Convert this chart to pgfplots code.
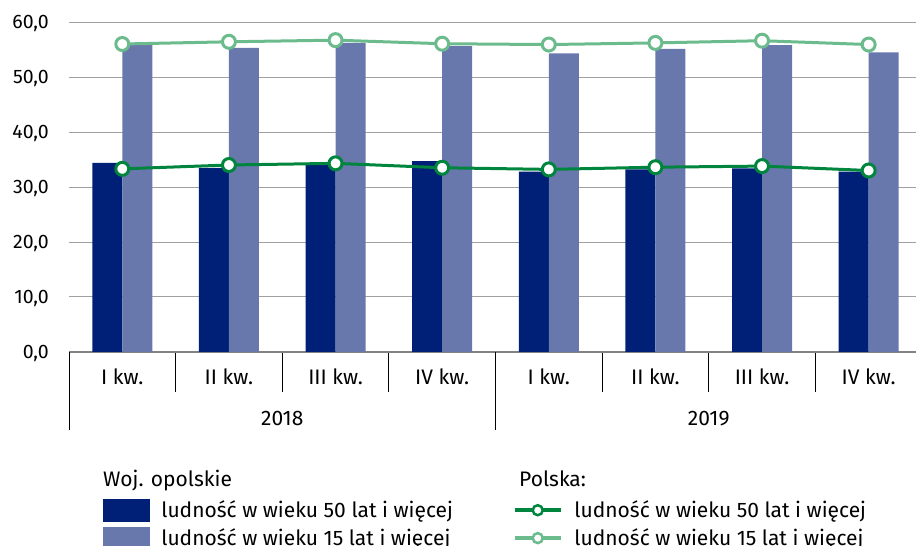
\documentclass[border=0pt]{standalone}
\usepackage{pgfplots}
\pgfplotsset{compat=1.18}
\usepackage{fontspec}
\setmainfont{Fira Sans}
\definecolor{navy}{RGB}{0,32,120}
\definecolor{lblue}{RGB}{104,120,173}
\definecolor{dgreen}{RGB}{0,133,62}
\definecolor{lgreen}{RGB}{107,187,141}
\definecolor{gridc}{RGB}{160,160,160}
\newcommand\fs{\fontsize{21pt}{24pt}\selectfont}
\newcommand\fy{\fontsize{19.5pt}{23pt}\selectfont}
\begin{document}
\begin{tikzpicture}
\useasboundingbox (0,0) rectangle (916pt,546pt);
\begin{axis}[
  at={(69pt,194pt)}, anchor=south west,
  scale only axis, width=847pt, height=330pt,
  xmin=-0.5, xmax=7.444, ymin=0, ymax=60,
  clip=false,
  axis lines*=left,
  y axis line style={draw=none},
  x axis line style={draw={rgb,255:red,130;green,130;blue,130}, line width=1.2pt},
  ytick={0,10,...,60},
  yticklabels={{0,0},{10,0},{20,0},{30,0},{40,0},{50,0},{60,0}},
  ymajorgrids, grid style={gridc, line width=1pt},
  xtick={0,...,7},
  xticklabels={I kw.,II kw.,III kw.,IV kw.,I kw.,II kw.,III kw.,IV kw.},
  minor xtick={-0.5,0.5,...,7.5},
  tick align=outside,
  major tick length=0pt,
  minor tick length=40pt,
  minor x tick style={black, line width=0.8pt},
  extra x ticks={-0.5,3.5},
  extra x tick labels={},
  extra x tick style={major tick length=78pt, tick style={black, line width=0.8pt}},
  xticklabel style={font=\fs, inner sep=0pt, anchor=base, yshift=-33pt},
  yticklabel style={font=\fy, inner sep=0pt, anchor=base east, xshift=-20pt, yshift=-6.6pt},
  legend columns=2,
  legend cell align=left,
  legend style={at={(0.0401,-0.4455)}, anchor=north west, draw=none, fill=none,
    inner sep=0pt, outer sep=0pt, row sep=5.5pt, font=\fs,
    nodes={inner sep=0pt},
    /tikz/every odd column/.append style={column sep=12pt},
    /tikz/every even column/.append style={column sep=60pt}},
]
\addplot[ybar, bar width=30pt, bar shift=-15pt, fill=navy, draw=none, forget plot]
  coordinates {(0,34.4) (1,33.5) (2,34.4) (3,34.7) (4,32.8) (5,33.2) (6,33.4) (7,32.8)};
\addplot[ybar, bar width=30pt, bar shift=15pt, fill=lblue, draw=none, forget plot]
  coordinates {(0,55.8) (1,55.3) (2,56.2) (3,55.6) (4,54.3) (5,55.1) (6,55.8) (7,54.5)};
\addplot[dgreen, line width=3pt, mark=*, mark size=6.5pt,
  mark options={fill=white, draw=dgreen, line width=3pt}, forget plot]
  coordinates {(0,33.3) (1,34.0) (2,34.3) (3,33.5) (4,33.2) (5,33.6) (6,33.8) (7,33.0)};
\addplot[lgreen, line width=3pt, mark=*, mark size=6.5pt,
  mark options={fill=white, draw=lgreen, line width=3pt}, forget plot]
  coordinates {(0,56.0) (1,56.4) (2,56.7) (3,56.05) (4,55.9) (5,56.2) (6,56.6) (7,55.9)};

\addlegendimage{legend image code/.code={\fill[navy] (0pt,-11pt) rectangle (46pt,11pt);}}
\addlegendentry{ludność w wieku 50 lat i więcej}
\addlegendimage{dgreen, line width=3.5pt, mark=*, mark size=5pt,
  mark options={fill=white, draw=dgreen, line width=2.5pt},
  legend image code/.code={\draw[mark repeat=2, mark phase=2] plot coordinates {(0pt,0pt) (23pt,0pt) (46pt,0pt)};}}
\addlegendentry{ludność w wieku 50 lat i więcej}
\addlegendimage{legend image code/.code={\fill[lblue] (0pt,-11pt) rectangle (46pt,11pt);}}
\addlegendentry{ludność w wieku 15 lat i więcej}
\addlegendimage{lgreen, line width=3.5pt, mark=*, mark size=5pt,
  mark options={fill=white, draw=lgreen, line width=2.5pt},
  legend image code/.code={\draw[mark repeat=2, mark phase=2] plot coordinates {(0pt,0pt) (23pt,0pt) (46pt,0pt)};}}
\addlegendentry{ludność w wieku 15 lat i więcej}

\node[font=\fs, anchor=base, inner sep=0pt] at (axis cs:1.5,0) [yshift=-74pt] {2018};
\node[font=\fs, anchor=base, inner sep=0pt] at (axis cs:5.5,0) [yshift=-74pt] {2019};
\end{axis}
\node[font=\fs, anchor=base west, inner sep=0pt] at (103pt,59pt) {Woj. opolskie};
\node[font=\fs, anchor=base west, inner sep=0pt] at (519pt,59pt) {Polska:};
\end{tikzpicture}
\end{document}
